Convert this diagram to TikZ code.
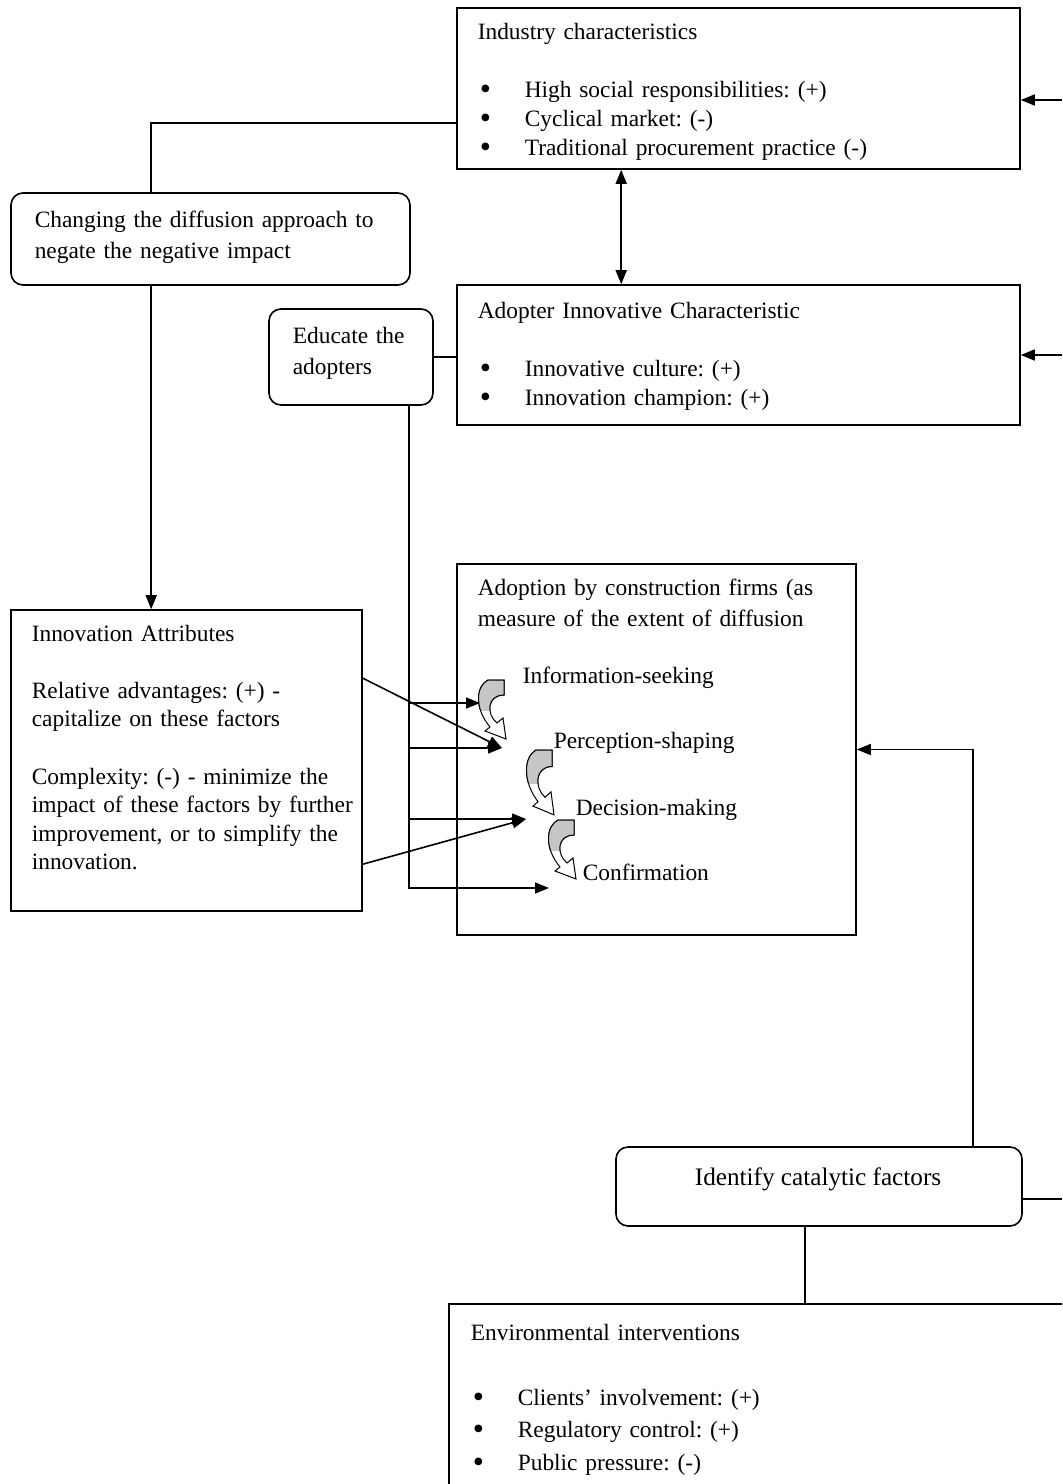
\documentclass[tikz,border=0pt]{standalone}
\usepackage{fontspec}
\setmainfont{Liberation Serif}
\usetikzlibrary{arrows.meta, positioning, calc, fit}
\newcommand{\bitem}[1]{\makebox[23.5pt][l]{\hspace{1pt}\raisebox{-1.2pt}[4pt][0pt]{\fontsize{16}{12}\selectfont\textbullet}}#1}
\newcommand{\tightfont}[1]{\fontsize{11.7}{#1}\selectfont\frenchspacing\spaceskip=2.3pt plus 1pt minus 0.5pt\relax}

\begin{document}
\begin{tikzpicture}[x=0.5pt, y=-0.5pt, line width=0.8pt, >={Triangle[length=7pt,width=5.5pt]},
    box/.style={draw, rectangle, inner sep=0pt},
    rbox/.style={box, rounded corners=6pt},
    txt/.style={anchor=base west, inner sep=0pt, text width=260pt, align=left, font=\tightfont{14.5pt}},
    wide/.style={font=\tightfont{15.5pt}},
    stagearrow/.pic={
        \path[draw, fill=white, line width=0.5pt] (-16,0) .. controls (-28,6) and (-30,28) .. (-14,47) -- (-19,51) -- (2,59) -- (-1,38) -- (-7,43) .. controls (-18,34) and (-17,15) .. (0,15) -- (0,0) -- cycle;
        \begin{scope}
            \clip (-32,-2) rectangle (3,30);
            \path[draw, fill=gray!45, line width=0.5pt] (-16,0) .. controls (-28,6) and (-30,28) .. (-14,47) -- (-7,43) .. controls (-18,34) and (-17,15) .. (0,15) -- (0,0) -- cycle;
        \end{scope}
    }]
    \useasboundingbox (0,0) rectangle (1062,1484);
    \clip (0,0) rectangle (1062,1484);

    % boxes
    \node[box, fit={(457,8) (1020,169)}] (ind) {};
    \node[rbox, fit={(11,193) (410,285)}] (chg) {};
    \node[box, fit={(457,285) (1020,425)}] (adp) {};
    \node[rbox, fit={(269,309) (433,405)}] (edu) {};
    \node[box, fit={(11,610) (362,911)}] (att) {};
    \node[box, fit={(457,564) (856,935)}] (ado) {};
    \node[rbox, fit={(616,1147) (1022,1226)}] (cat) {};
    \node[box, fit={(449,1304) (1120,1540)}] (env) {};

    % texts
    \node[txt] (indt) at (477,39) {Industry characteristics\\[14.5pt]
        \bitem{High social responsibilities: (+)}\\
        \bitem{Cyclical market: (-)}\\
        \bitem{Traditional procurement practice (-)}};
    \node[txt, wide] (chgt) at (34,227) {Changing the diffusion approach to\\ negate the negative impact};
    \node[txt] (adpt) at (477,318) {Adopter Innovative Characteristic\\[14.5pt]
        \bitem{Innovative culture: (+)}\\
        \bitem{Innovation champion: (+)}};
    \node[txt, wide] (edut) at (292,343) {Educate the\\ adopters};
    \node[txt, font=\tightfont{14.3pt}] (attt) at (31,641) {Innovation Attributes\\[14.3pt]
        Relative advantages: (+) -\\ capitalize on these factors\\[14.3pt]
        Complexity: (-) - minimize the\\ impact of these factors by further\\
        improvement, or to simplify the\\ innovation.};
    \node[txt, wide] (adot) at (477,595) {Adoption by construction firms (as\\ measure of the extent of diffusion};
    \node[txt] (s1) at (522,683) {Information-seeking};
    \node[txt] (s2) at (553,748) {Perception-shaping};
    \node[txt] (s3) at (575,815) {Decision-making};
    \node[txt] (s4) at (582,880) {Confirmation};
    \node[anchor=base, inner sep=0pt, font=\fontsize{12.6}{14.5}\selectfont] (catt) at (818,1185) {Identify catalytic factors};
    \node[txt, font=\tightfont{16.25pt}] (envt) at (470,1340) {Environmental interventions\\[16.25pt]
        \bitem{Clients’ involvement: (+)}\\
        \bitem{Regulatory control: (+)}\\
        \bitem{Public pressure: (-)}};

    % stages
    \pic at (504,680) {stagearrow};
    \pic[yscale=1.1] at (552,750) {stagearrow};
    \pic at (574,820) {stagearrow};

    \coordinate (t1) at (480,703);
    \coordinate (t2) at (502,748);
    \coordinate (t3) at (526,819);
    \coordinate (t4) at (549,888);
    \coordinate (trunk) at ([xshift=70.5pt]edu.south west);
    \coordinate (cb) at ([xshift=95pt]cat.south west);
    \coordinate (r1) at (1062,100);
    \coordinate (r2) at (1062,355);
    \coordinate (r3) at (1062,1199);

    % connectors
    \draw ([yshift=-58pt]ind.north west) -| ([xshift=70.5pt]chg.north west);
    \draw[->] ([xshift=70.5pt]chg.south west) -- ([xshift=70.5pt]att.north west);
    \draw[<->] ([xshift=82.5pt]ind.south west) -- ([xshift=82.5pt]adp.north west);
    \draw (edu.east) -- (adp.west |- edu.east);
    \draw[->] (trunk) |- (t4);
    \draw[->] (trunk |- t1) -- (t1);
    \draw[->] (trunk |- t2) -- (t2);
    \draw[->] (trunk |- t3) -- (t3);
    \draw[->] ([yshift=-34.5pt]att.north east) -- (t2);
    \draw[->] ([yshift=-127.5pt]att.north east) -- (t3);
    \draw[->] ([xshift=179pt]cat.north west) |- (ado.east);
    \draw (cb) -- (cb |- env.north);
    \draw ([yshift=-6.25pt]cat.east) -- (r3);
    \draw[->] (r1) -- (ind.east |- r1);
    \draw[->] (r2) -- (adp.east |- r2);
\end{tikzpicture}
\end{document}
